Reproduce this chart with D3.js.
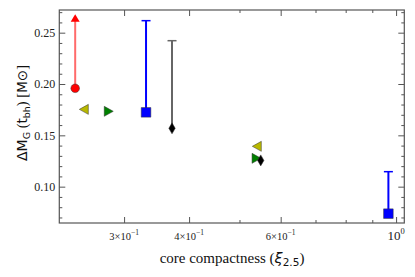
<!DOCTYPE html>
<html><head><meta charset="utf-8">
<script src="https://cdn.jsdelivr.net/npm/d3@7"></script>
<style>body{margin:0;background:#fff}svg{display:block}</style>
</head><body>
<script>
// Data
const compactness = [0.2416, 0.2516, 0.2797, 0.3306, 0.3709, 0.5411, 0.538, 0.5493, 0.9665];
const deltaM =      [0.1958, 0.1753, 0.1734, 0.1724, 0.1568, 0.1393, 0.1276, 0.1256, 0.0737];
const errUpper =    [0.2656, null,   null,   0.2617, 0.2422, null,   null,   null,   0.1146];
const markers =     ["circle","triLeft","triRight","square","diamond","triLeft","triRight","diamond","square"];
const colors =      ["#ff0000","#b8b800","#008000","#0000ff","#000000","#b8b800","#008000","#000000","#0000ff"];
const errColors =   ["#ff6b6b",null,null,"#0000ff","#666666",null,null,null,"#0000ff"];
const errStyle =    ["arrow",null,null,"cap","cap",null,null,null,"cap"];
const xTickVals = [0.3, 0.4, 0.6, 1.0];
const xTickMant = ["3", "4", "6", null];
const xMinor = [0.5, 0.7, 0.8, 0.9];
const yTickVals = [0.10, 0.15, 0.20, 0.25];

const W = 415, H = 277;
const svg = d3.select("body").append("svg").attr("width", W).attr("height", H);
const L = 59.3, R = 404.3, T = 10, B = 223;
const x = d3.scaleLog().domain([0.2252, 1.037]).range([L, R]);
const y = d3.scaleLinear().domain([0.0646, 0.2721]).range([B, T]);
const axisCol = "#555";
const serif = "'Liberation Serif','Times New Roman',serif";
const sans = "'DejaVu Sans',sans-serif";

// frame
svg.append("rect").attr("x", L).attr("y", T).attr("width", R - L).attr("height", B - T)
  .attr("fill", "none").attr("stroke", axisCol).attr("stroke-width", 1.2);

const yMinorVals = d3.range(7, 28).map(d => d / 100).filter(v => yTickVals.every(t => Math.abs(t - v) > 1e-6));
function styleAxis(g) {
  g.select(".domain").remove();
  g.selectAll("line").attr("stroke", axisCol).attr("stroke-width", 1);
}
svg.append("g").attr("transform", `translate(${L},0)`).call(d3.axisLeft(y).tickValues(yTickVals).tickSize(-6).tickFormat(d3.format(".2f")).tickPadding(4))
  .call(styleAxis).call(g => g.selectAll("text").attr("font-family", serif).attr("font-size", 12).attr("fill", "#222"));
svg.append("g").attr("transform", `translate(${L},0)`).call(d3.axisLeft(y).tickValues(yMinorVals).tickSize(-3).tickFormat(""))
  .call(styleAxis);
svg.append("g").attr("transform", `translate(${R},0)`).call(d3.axisRight(y).tickValues(yTickVals).tickSize(-6).tickFormat(""))
  .call(styleAxis);
svg.append("g").attr("transform", `translate(${R},0)`).call(d3.axisRight(y).tickValues(yMinorVals).tickSize(-3).tickFormat(""))
  .call(styleAxis);
svg.append("g").attr("transform", `translate(0,${B})`).call(d3.axisBottom(x).tickValues(xTickVals).tickSize(-6).tickFormat(""))
  .call(styleAxis);
svg.append("g").attr("transform", `translate(0,${B})`).call(d3.axisBottom(x).tickValues(xMinor).tickSize(-3).tickFormat(""))
  .call(styleAxis);
svg.append("g").attr("transform", `translate(0,${T})`).call(d3.axisTop(x).tickValues(xTickVals).tickSize(-6).tickFormat(""))
  .call(styleAxis);
svg.append("g").attr("transform", `translate(0,${T})`).call(d3.axisTop(x).tickValues(xMinor).tickSize(-3).tickFormat(""))
  .call(styleAxis);

// x tick labels
xTickVals.forEach((v, i) => {
  const t = svg.append("text").attr("x", x(v)).attr("y", 240).attr("text-anchor", "middle")
    .attr("font-family", serif).attr("fill", "#222");
  if (xTickMant[i]) {
    t.attr("font-size", 10.5);
    t.append("tspan").text(xTickMant[i] + "\u00d710");
    t.append("tspan").attr("dy", -5).attr("font-size", 7.5).text("\u22121");
  } else {
    t.attr("font-size", 13);
    t.append("tspan").text("10");
    t.append("tspan").attr("dy", -6).attr("font-size", 8.5).text("0");
  }
});

// axis labels
const xl = svg.append("text").attr("x", 232).attr("y", 263).attr("text-anchor", "middle")
  .attr("font-family", serif).attr("font-size", 15).attr("fill", "#111");
xl.append("tspan").text("core compactness (");
xl.append("tspan").attr("font-family", sans).attr("font-style", "italic").attr("font-size", 14.5).text("\u03be");
xl.append("tspan").attr("font-family", sans).attr("font-size", 10.5).attr("dy", 3).text("2.5");
xl.append("tspan").attr("dy", -3).text(")");

const yl = svg.append("text").attr("transform", "translate(27,113) rotate(-90)").attr("text-anchor", "middle")
  .attr("font-family", serif).attr("font-size", 14.5).attr("fill", "#111");
yl.append("tspan").attr("font-family", sans).attr("font-size", 14).text("\u0394M");
yl.append("tspan").attr("font-family", sans).attr("font-size", 9.5).attr("dy", 3).text("G");
yl.append("tspan").attr("dy", -3).text(" (");
yl.append("tspan").attr("font-family", sans).attr("font-size", 13.5).text("t");
yl.append("tspan").attr("font-family", sans).attr("font-size", 9.5).attr("dy", 3).text("bh");
yl.append("tspan").attr("dy", -3).text(") [");
yl.append("tspan").attr("font-family", sans).attr("font-size", 13.5).text("M\u2299");
yl.append("tspan").text("]");

// error bars
compactness.forEach((c, i) => {
  if (errUpper[i] == null) return;
  const cx = x(c), y0 = y(deltaM[i]), y1 = y(errUpper[i]);
  svg.append("line").attr("x1", cx).attr("x2", cx).attr("y1", y0).attr("y2", y1)
    .attr("stroke", errColors[i]).attr("stroke-width", 2);
  if (errStyle[i] === "cap") {
    svg.append("line").attr("x1", cx - 4.5).attr("x2", cx + 4.5).attr("y1", y1).attr("y2", y1)
      .attr("stroke", errColors[i]).attr("stroke-width", 1.5);
  } else {
    svg.append("path").attr("d", `M${cx - 4.5},${y1 + 5}L${cx + 4.5},${y1 + 5}L${cx},${y1 - 2.5}Z`)
      .attr("fill", "#ff0000");
  }
});

// markers
const shapes = {
  circle: "M0,-4.3A4.3,4.3 0 1,1 0,4.3A4.3,4.3 0 1,1 0,-4.3Z",
  square: "M-4.8,-4.8H4.8V4.8H-4.8Z",
  triLeft: "M-5,0L4,-5L4,5Z",
  triRight: "M5,0L-4,-5L-4,5Z",
  diamond: "M0,-5.5L3.2,0L0,5.5L-3.2,0Z"
};
compactness.forEach((c, i) => {
  svg.append("path").attr("d", shapes[markers[i]])
    .attr("transform", `translate(${x(c)},${y(deltaM[i])})`)
    .attr("fill", colors[i]).attr("stroke", "#333").attr("stroke-width", 0.5);
});
</script>
</body></html>
